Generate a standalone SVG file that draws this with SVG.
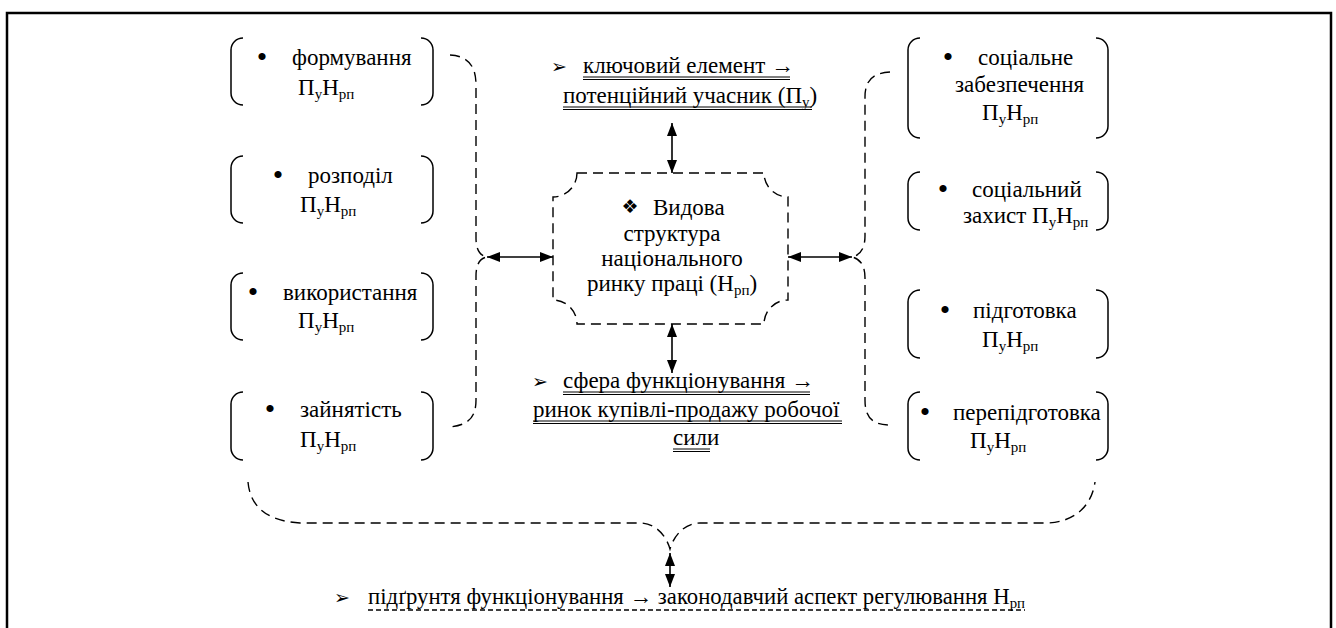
<svg xmlns="http://www.w3.org/2000/svg" width="1336" height="628" viewBox="0 0 1336 628" font-family="'Liberation Serif', 'Times New Roman', 'DejaVu Serif', serif">
<defs>
<style>
text{font-family:'Liberation Serif','Times New Roman','DejaVu Serif',serif}
.t{font-size:23px;fill:#000}
.s{font-size:15px}
.b{font-size:30px;fill:#000}
.sym{font-family:'DejaVu Sans',sans-serif;font-size:19px;fill:#000}
.br{fill:none;stroke:#000;stroke-width:1.5}
.dash{fill:none;stroke:#000;stroke-width:1.4;stroke-dasharray:10 6}
.ar{fill:none;stroke:#000;stroke-width:1.6;marker-start:url(#ah);marker-end:url(#ah)}
.ul{stroke:#000;stroke-width:1}
</style>
<marker id="ah" viewBox="0 0 13 10" refX="13" refY="5" markerWidth="13" markerHeight="10" markerUnits="userSpaceOnUse" orient="auto-start-reverse"><path d="M0,0 L13,5 L0,10 z" fill="#000"/></marker>
</defs>
<rect x="7" y="13" width="1324" height="700" fill="#fff" stroke="#000" stroke-width="2.5"/>

<g id="n-formuvannia">
<path class="br" d="M243,38 A12,12 0 0 0 231,50 V93 A12,12 0 0 0 243,105 M421,38 A12,12 0 0 1 433,50 V93 A12,12 0 0 1 421,105"/>
<text class="b" x="262" y="67" text-anchor="middle">•</text>
<text class="t" x="292" y="65">формування</text>
<text class="t" x="298" y="95">П<tspan class="s" dy="4">у</tspan><tspan dy="-4">Н</tspan><tspan class="s" dy="4">рп</tspan></text>
</g>
<g id="n-rozpodil">
<path class="br" d="M243,156 A12,12 0 0 0 231,168 V211 A12,12 0 0 0 243,223 M421,156 A12,12 0 0 1 433,168 V211 A12,12 0 0 1 421,223"/>
<text class="b" x="278" y="185" text-anchor="middle">•</text>
<text class="t" x="308" y="183">розподіл</text>
<text class="t" x="300" y="212">П<tspan class="s" dy="4">у</tspan><tspan dy="-4">Н</tspan><tspan class="s" dy="4">рп</tspan></text>
</g>
<g id="n-vykorystannia">
<path class="br" d="M243,273 A12,12 0 0 0 231,285 V328 A12,12 0 0 0 243,340 M421,273 A12,12 0 0 1 433,285 V328 A12,12 0 0 1 421,340"/>
<text class="b" x="253" y="302" text-anchor="middle">•</text>
<text class="t" x="283" y="300">використання</text>
<text class="t" x="298" y="328">П<tspan class="s" dy="4">у</tspan><tspan dy="-4">Н</tspan><tspan class="s" dy="4">рп</tspan></text>
</g>
<g id="n-zainiatist">
<path class="br" d="M243,392 A12,12 0 0 0 231,404 V448 A12,12 0 0 0 243,460 M421,392 A12,12 0 0 1 433,404 V448 A12,12 0 0 1 421,460"/>
<text class="b" x="270" y="419" text-anchor="middle">•</text>
<text class="t" x="300" y="417">зайнятість</text>
<text class="t" x="300" y="447">П<tspan class="s" dy="4">у</tspan><tspan dy="-4">Н</tspan><tspan class="s" dy="4">рп</tspan></text>
</g>

<g id="n-sots-zabezp">
<path class="br" d="M920,38 A12,12 0 0 0 908,50 V126 A12,12 0 0 0 920,138 M1096,38 A12,12 0 0 1 1108,50 V126 A12,12 0 0 1 1096,138"/>
<text class="b" x="948" y="67" text-anchor="middle">•</text>
<text class="t" x="978" y="65">соціальне</text>
<text class="t" x="955" y="92">забезпечення</text>
<text class="t" x="982" y="120">П<tspan class="s" dy="4">у</tspan><tspan dy="-4">Н</tspan><tspan class="s" dy="4">рп</tspan></text>
</g>
<g id="n-sots-zakhyst">
<path class="br" d="M920,172 A12,12 0 0 0 908,184 V218 A12,12 0 0 0 920,230 M1096,172 A12,12 0 0 1 1108,184 V218 A12,12 0 0 1 1096,230"/>
<text class="b" x="943" y="199" text-anchor="middle">•</text>
<text class="t" x="972" y="197">соціальний</text>
<text class="t" x="963" y="223">захист П<tspan class="s" dy="4">у</tspan><tspan dy="-4">Н</tspan><tspan class="s" dy="4">рп</tspan></text>
</g>
<g id="n-pidhotovka">
<path class="br" d="M920,290 A12,12 0 0 0 908,302 V346 A12,12 0 0 0 920,358 M1096,290 A12,12 0 0 1 1108,302 V346 A12,12 0 0 1 1096,358"/>
<text class="b" x="945" y="320" text-anchor="middle">•</text>
<text class="t" x="973" y="318">підготовка</text>
<text class="t" x="982" y="347">П<tspan class="s" dy="4">у</tspan><tspan dy="-4">Н</tspan><tspan class="s" dy="4">рп</tspan></text>
</g>
<g id="n-perepidhotovka">
<path class="br" d="M920,392 A12,12 0 0 0 908,404 V448 A12,12 0 0 0 920,460 M1096,392 A12,12 0 0 1 1108,404 V448 A12,12 0 0 1 1096,460"/>
<text class="b" x="925" y="422" text-anchor="middle">•</text>
<text class="t" x="953" y="420">перепідготовка</text>
<text class="t" x="970" y="448">П<tspan class="s" dy="4">у</tspan><tspan dy="-4">Н</tspan><tspan class="s" dy="4">рп</tspan></text>
</g>

<g id="n-center">
<path class="dash" d="M577,173 H764 A24,24 0 0 0 788,197 V300 A24,24 0 0 0 764,324 H577 A24,24 0 0 0 553,300 V197 A24,24 0 0 0 577,173 Z"/>
<text class="sym" x="630" y="213" text-anchor="middle">❖</text>
<text class="t" x="653" y="215">Видова</text>
<text class="t" x="672" y="241" text-anchor="middle">структура</text>
<text class="t" x="672" y="266" text-anchor="middle">національного</text>
<text class="t" x="672" y="291" text-anchor="middle">ринку праці (Н<tspan class="s" dy="4">рп</tspan><tspan dy="-4">)</tspan></text>
</g>

<g id="n-top">
<text class="sym" x="551" y="73">➢</text>
<text class="t" x="583" y="73">ключовий елемент →</text>
<text class="t" x="563" y="103">потенційний учасник (П<tspan class="s" dy="4">у</tspan><tspan dy="-4">)</tspan></text>
<path class="ul" d="M583,77 H790 M583,79.5 H790 M563,107 H812 M563,109.5 H812"/>
</g>

<g id="n-middle">
<text class="sym" x="532" y="388">➢</text>
<text class="t" x="563" y="388">сфера функціонування →</text>
<text class="t" x="533" y="417">ринок купівлі-продажу робочої</text>
<text class="t" x="673" y="445">сили</text>
<path class="ul" d="M563,392 H810 M563,394.5 H810 M533,421 H842 M533,423.5 H842 M673,449 H710 M673,451.5 H710"/>
</g>

<g id="n-bottom">
<text class="sym" x="334" y="604">➢</text>
<text class="t" x="368" y="604" textLength="657" lengthAdjust="spacingAndGlyphs">підґрунтя функціонування → законодавчий аспект регулювання Н<tspan class="s" dy="4">рп</tspan></text>
<path d="M368,610 H1025" stroke="#000" stroke-width="1.5" stroke-dasharray="5 3"/>
</g>

<g id="connectors">
<path class="dash" d="M450,55 C468,56 476,66 476,85 V238 Q476,255 487,257 Q476,259 476,276 V400 C476,418 468,425 450,427"/>
<path class="dash" d="M890,72 C873,73 865,80 865,97 V236 Q865,254 852,257 Q865,260 865,278 V400 C865,418 873,425 890,425"/>
<path class="dash" d="M248,482 C250,505 265,521 300,523 H640 C655,523 666,535 670,549 C674,535 685,523 700,523 H1045 C1075,523 1092,505 1095,482"/>
<line class="ar" x1="672" y1="123" x2="672" y2="173"/>
<line class="ar" x1="672" y1="324" x2="672" y2="373"/>
<line class="ar" x1="487" y1="257" x2="553" y2="257"/>
<line class="ar" x1="788" y1="257" x2="852" y2="257"/>
<line class="ar" x1="670" y1="553" x2="670" y2="587"/>
</g>
</svg>
